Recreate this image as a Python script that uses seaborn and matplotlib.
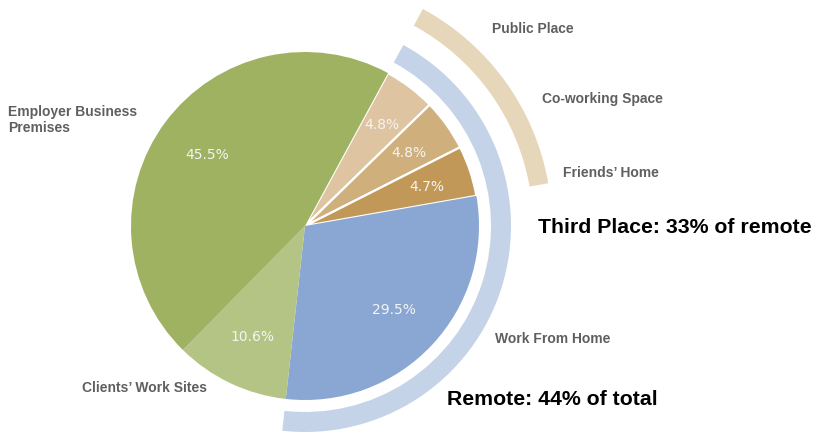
import matplotlib
matplotlib.use('Agg')
import matplotlib.pyplot as plt
import seaborn as sns

# data, in the order the slices are drawn (clockwise from the top right)
categories = ['Public Place', 'Co-working Space', 'Friends’ Home', 'Work From Home',
              'Clients’ Work Sites', 'Employer Business\nPremises']
shares = [4.8, 4.8, 4.7, 29.5, 10.6, 45.5]
colors = ['#dec4a0', '#cfb07d', '#c19857', '#8aa6d2', '#b4c484', '#9fb261']
third_place_n = 3   # first three slices are "third place"
remote_n = 4        # first four slices are remote work
remote_note = 'Remote: 44% of total'
third_note = 'Third Place: 33% of remote'

# layout (pixel coords, top-left origin)
W, H = 813, 435
cx, cy, R = 305, 227, 174
start = 61.5
label_pos = [(492, 29), (542, 99), (563, 173), (495, 339), (82, 388), (8, 120)]

sns.set_theme(style='white')
plt.rcParams['font.family'] = ['DejaVu Sans']

fig = plt.figure(figsize=(W / 100, H / 100), dpi=100)
ax = fig.add_axes([0, 0, 1, 1])
center = (cx, H - cy)

vals = iter(shares)
wedges, _, pcts = ax.pie(shares, colors=colors, startangle=start, counterclock=False,
                         center=center, radius=R, autopct=lambda p: f'{next(vals):.1f}%',
                         pctdistance=0.7, textprops=dict(color='#f4f4f4', fontsize=10),
                         wedgeprops=dict(linewidth=0))
# only the third-place slices get white separators
for i, w in enumerate(wedges):
    if i < third_place_n:
        w.set_edgecolor('white')
        w.set_linewidth(1.6)
for i, t in enumerate(pcts):
    if i < third_place_n:
        x, y = t.get_position()
        t.set_position((cx + (x - cx) * 1.05, (H - cy) + (y - H + cy) * 1.05))

# remote ring
remote_total = sum(shares[:remote_n])
ax.pie([remote_total, sum(shares) - remote_total], colors=['#c5d3e8', 'none'],
       startangle=start, counterclock=False, center=center, radius=206,
       wedgeprops=dict(width=20, linewidth=0))
# third place ring
third_total = sum(shares[:third_place_n])
ax.pie([third_total, sum(shares) - third_total], colors=['#e6d6ba', 'none'],
       startangle=start, counterclock=False, center=center, radius=247,
       wedgeprops=dict(width=19, linewidth=0))

for name, (x, y) in zip(categories, label_pos):
    ax.text(x, H - y, name, ha='left', va='center', multialignment='left', fontsize=10,
            fontweight='bold', color='#5f5f5f', family='Liberation Sans', linespacing=1.15)

ax.text(538, H - 228, third_note, ha='left', va='center', fontsize=15.3,
        fontweight='bold', color='black', family='Liberation Sans')
ax.text(447, H - 400, remote_note, ha='left', va='center', fontsize=15.3,
        fontweight='bold', color='black', family='Liberation Sans')

ax.set_xlim(0, W)
ax.set_ylim(0, H)
ax.set_aspect('equal')
ax.axis('off')
fig.savefig('out.png', dpi=100, facecolor='white')
